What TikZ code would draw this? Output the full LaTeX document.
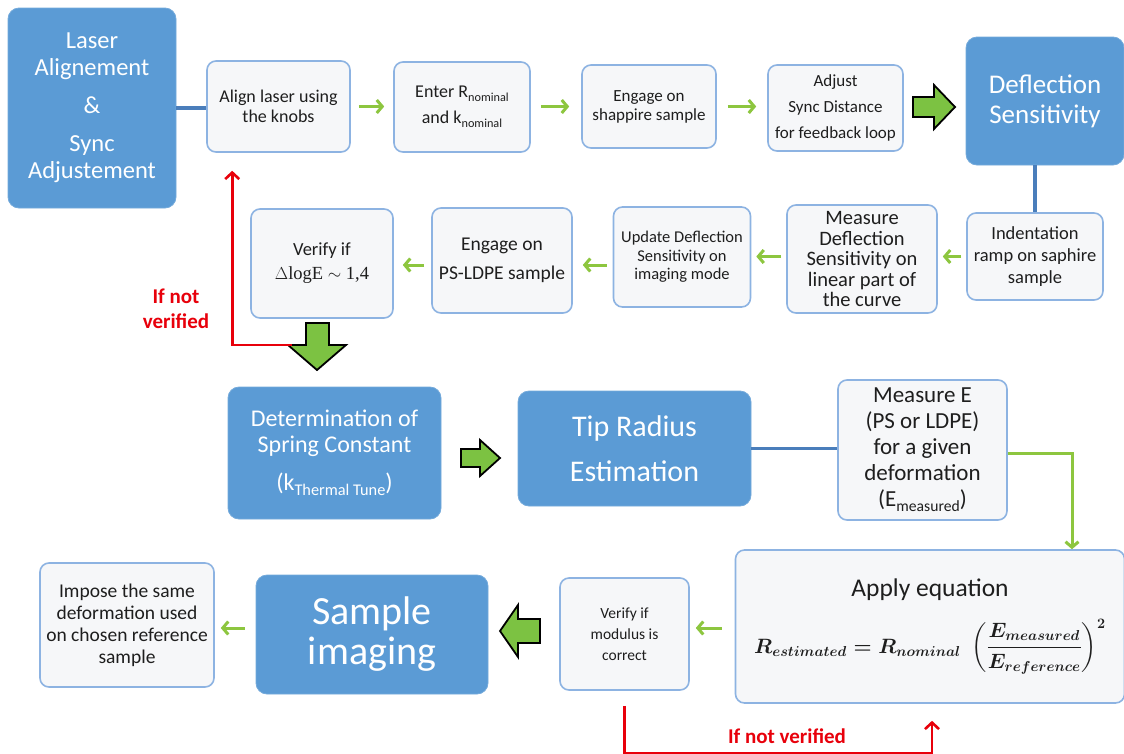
\documentclass[tikz,border=0pt]{standalone}
\usepackage{amsmath}
\usepackage{fontspec}
\setmainfont{Carlito}
\newfontfamily\serifface{Liberation Serif}
\usetikzlibrary{arrows.meta,calc}
\definecolor{boxblue}{HTML}{5B9BD5}
\definecolor{lightfill}{HTML}{F6F7F9}
\definecolor{lightborder}{HTML}{8DB3E2}
\definecolor{lgreen}{HTML}{8DC63F}
\definecolor{bgreen}{HTML}{7CC242}
\definecolor{lineblue}{HTML}{4A7EBB}
\definecolor{redline}{HTML}{E8000B}
\definecolor{txt}{HTML}{1E1E1E}
\newcommand\lsub[1]{\raisebox{-0.45ex}{\scalebox{0.68}{#1}}}
\newcommand\fs[2]{\fontsize{#1}{#2}\selectfont}
\begin{document}
\begin{tikzpicture}[x=1pt,y=-1pt,
  lbox/.style={draw=lightborder, fill=lightfill, line width=1.6pt, rounded corners=9pt, align=center, inner sep=2pt, text=txt},
  bbox/.style={fill=boxblue, draw=boxblue!85!white, line width=0.8pt, rounded corners=11pt, align=center, text=white, inner sep=2pt},
  garr/.style={draw=lgreen, line width=3pt, -{Straight Barb[length=5.5pt,width=13pt]}},
  blink/.style={draw=lineblue, line width=3.2pt},
  redarr/.style={draw=redline, line width=2.6pt, -{Straight Barb[length=6.5pt,width=14pt]}},
  redlbl/.style={text=redline, font=\bfseries\fs{21}{25}, align=center},
  bigarr/.style={fill=bgreen, draw=black, line width=1.8pt, line join=miter}]
\useasboundingbox (0,0) rectangle (1124,753);
\fill[white] (0,0) rectangle (1124,753);
% top row
\node[bbox, minimum width=168, minimum height=200, font=\fs{24.5}{27}] (laser) at (92,108) {Laser\\Alignement\\[11pt]\&\\[11pt]Sync\\Adjustement};
\node[lbox, minimum width=143, minimum height=91, font=\fs{18}{20}] (align) at (278.5,106.5) {Align laser using\\the knobs};
\node[lbox, minimum width=136, minimum height=90, font=\fs{18}{26}] (enter) at (462,107) {Enter R\lsub{nominal}\\and k\lsub{nominal}};
\node[lbox, minimum width=134, minimum height=83, font=\fs{17}{19}] (engage) at (649,106.5) {Engage on\\shappire sample};
\node[lbox, minimum width=135, minimum height=86, font=\fs{17}{26}] (adjust) at (835.5,108) {Adjust\\Sync Distance\\for feedback loop};
\node[bbox, minimum width=158, minimum height=128, font=\fs{27}{30}] (defl) at (1045,101) {Deflection\\Sensitivity};
% second row
\node[lbox, minimum width=136, minimum height=87, font=\fs{18.5}{22}] (indent) at (1035,256.5) {Indentation\\ramp on saphire\\sample};
\node[lbox, minimum width=150, minimum height=108, font=\fs{20.5}{20.5}] (measdef) at (862,259) {Measure\\Deflection\\Sensitivity on\\linear part of\\the curve};
\node[lbox, minimum width=137, minimum height=100, font=\fs{16.5}{18.5}] (update) at (682,257) {Update Deflection\\Sensitivity on\\imaging mode};
\node[lbox, minimum width=140, minimum height=105, font=\fs{19.5}{29}] (engps) at (502,260.5) {Engage on\\PS-LDPE sample};
\node[lbox, minimum width=142, minimum height=109, font=\fs{18.5}{24}] (verify) at (322,263.5) {Verify if\\{\serifface$\Delta$logE $\sim$ 1,4}};
% third row
\node[bbox, minimum width=213, minimum height=132, font=\fs{24}{26}] (determ) at (334.5,453) {Determination of\\Spring Constant\\[12pt](k\lsub{Thermal Tune})};
\node[bbox, minimum width=233, minimum height=115, font=\fs{30}{45}] (tip) at (634.5,448.5) {Tip Radius\\Estimation};
\node[lbox, minimum width=169, minimum height=140, font=\fs{23}{26}] (measE) at (922.5,450) {Measure E\\(PS or LDPE)\\for a given\\deformation\\(E\lsub{measured})};
% bottom row
\node[lbox, minimum width=389, minimum height=153] (apply) at (930,626.5) {{\fs{25.5}{26}Apply equation}\\[18pt]
  {\fs{21}{24}\mathversion{bold}$\boldsymbol{R_{estimated} = R_{nominal}\;\left(\dfrac{E_{measured}}{E_{reference}}\right)^{2}}$}};
\node[lbox, minimum width=129, minimum height=112, font=\fs{15.5}{21}] (verimod) at (624.5,634) {Verify if\\modulus is\\correct};
\node[bbox, minimum width=232, minimum height=119, font=\fs{40}{40}] (sampimg) at (372,634.5) {Sample\\imaging};
\node[lbox, minimum width=174, minimum height=124, font=\fs{19.5}{22}] (impose) at (127,625) {Impose the same\\deformation used\\on chosen reference\\sample};
% blue links
\draw[blink] (laser.east) -- (laser.east -| align.west);
\draw[blink] (defl.south -| indent.north) -- (indent.north);
\draw[blink] (tip.east) -- (tip.east -| measE.west);
% small green arrows
\draw[garr, shorten <=8pt, shorten >=9pt] (align.east) -- (align.east -| enter.west);
\draw[garr, shorten <=10pt, shorten >=12pt] (enter.east |- engage.west) -- (engage.west);
\draw[garr, shorten <=11pt, shorten >=11pt] (engage.east) -- (engage.east -| adjust.west);
\draw[garr, shorten <=5pt, shorten >=5pt] (indent.west) -- (indent.west -| measdef.east);
\draw[garr, shorten <=5pt, shorten >=5pt] (measdef.west |- indent.west) -- (indent.west -| update.east);
\draw[garr, shorten <=6pt, shorten >=10pt] (update.west |- 0,265) -- (engps.east |- 0,265);
\draw[garr, shorten <=7pt, shorten >=9pt] (engps.west |- 0,265) -- (verify.east |- 0,265);
\draw[garr] (measE.east |- 0,453) -| ($(apply.north)+(142,0)$);
\draw[garr, shorten <=13pt, shorten >=6pt] (apply.west |- 0,628) -- (verimod.east |- 0,628);
\draw[garr, shorten <=11pt, shorten >=6pt] (sampimg.west |- 0,628) -- (impose.east |- 0,628);
% big block arrows
\draw[bigarr] (913,97) -- (934,97) -- (934,85) -- (955,107) -- (934,129) -- (934,117) -- (913,117) -- cycle;
\draw[bigarr] (461,449) -- (480,449) -- (480,440) -- (500,458) -- (480,476) -- (480,467) -- (461,467) -- cycle;
\draw[bigarr] (306,323) -- (329,323) -- (329,345) -- (346,345) -- (317,370) -- (288,345) -- (306,345) -- cycle;
\draw[bigarr] (540,619) -- (518,619) -- (518,605) -- (500,631) -- (518,657) -- (518,643) -- (540,643) -- cycle;
% red feedback paths
\coordinate (r1) at (292,345);
\draw[redarr] (r1) -| ($(align.south west)+(26,18)$);
\node[redlbl] (lbl1) at (176,309) {If not\\verified};
\coordinate (r2) at ($(verimod.south)+(0,15)$);
\draw[redarr] (r2) -- ++(0,47) -| ($(apply.south)+(2,17)$);
\node[redlbl] (lbl2) at (787,736) {If not verified};
\end{tikzpicture}
\end{document}
